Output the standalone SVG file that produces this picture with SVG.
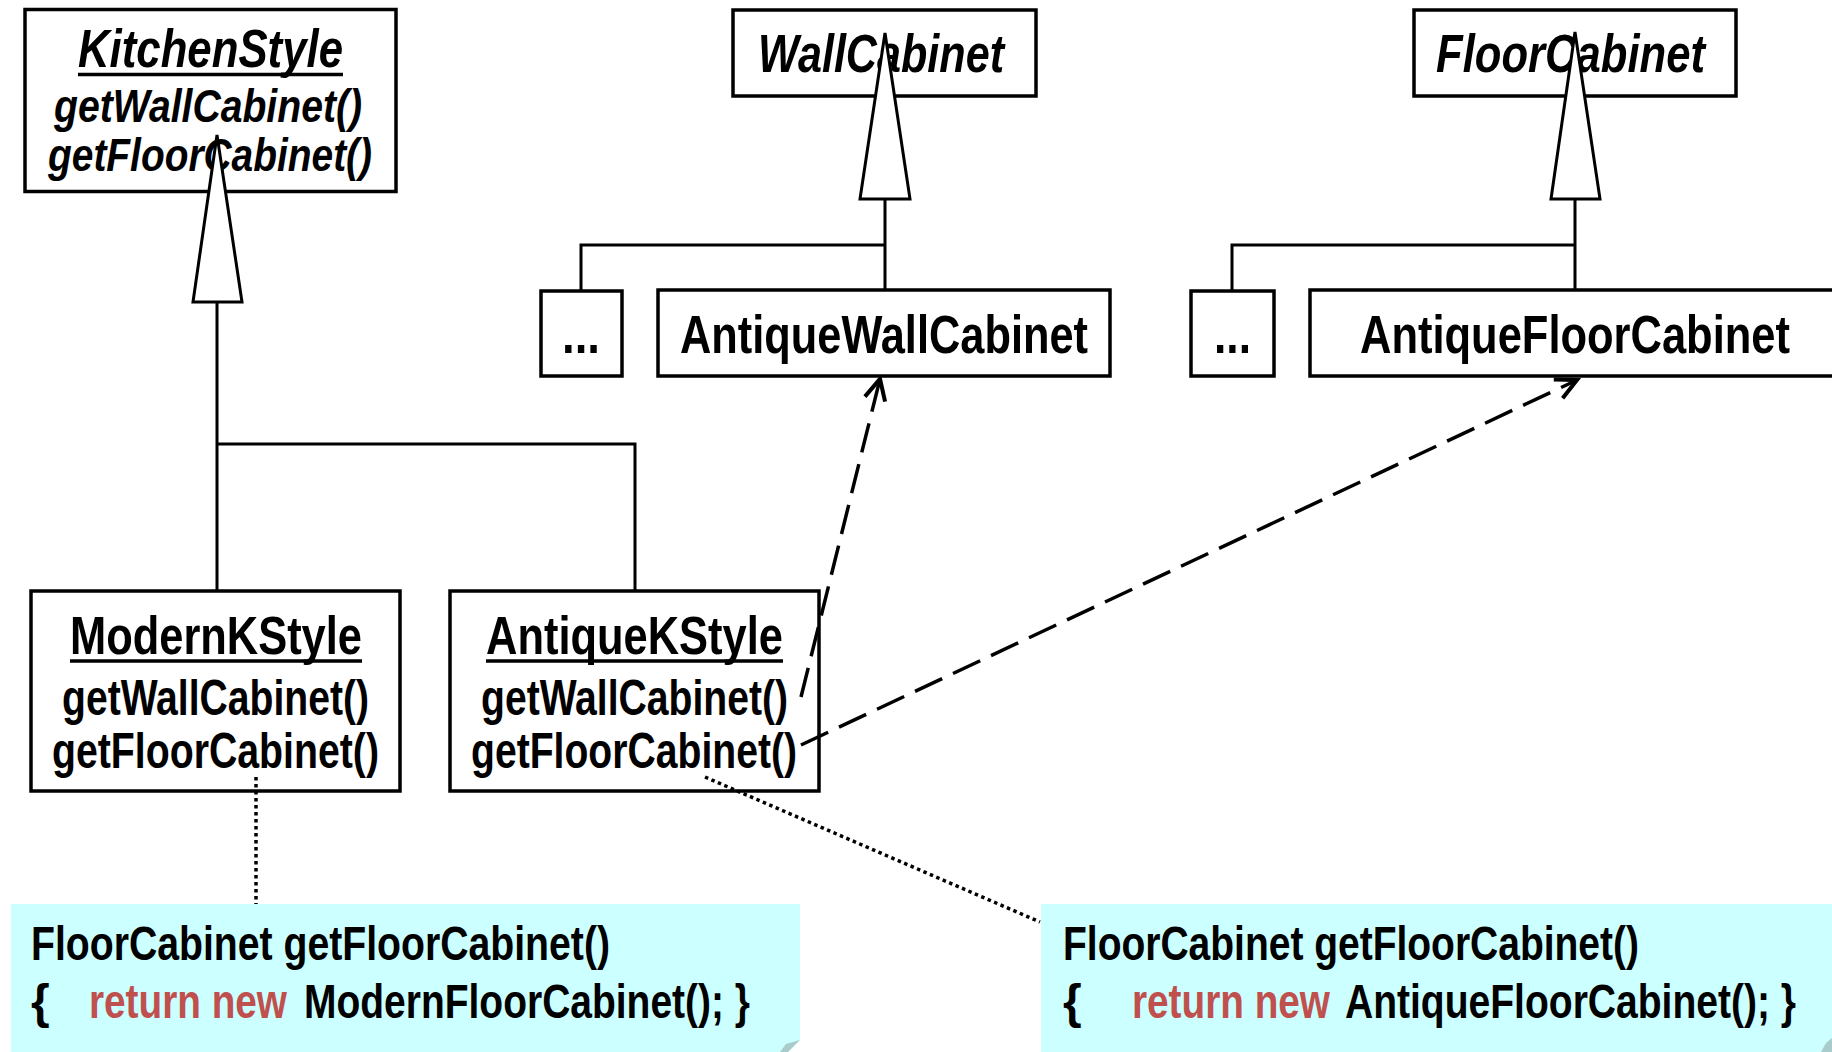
<svg xmlns="http://www.w3.org/2000/svg" width="1832" height="1052" viewBox="0 0 1832 1052">
  <style>
    .box { fill: #ffffff; stroke: #000000; stroke-width: 3.5; }
    .t { font-family: "Liberation Sans Narrow", "Liberation Sans", Arial, sans-serif; font-weight: bold; fill: #000000; }
    .cls { font-size: 54px; }
    .mth { font-size: 50px; }
    .amth { font-size: 47px; }
    .it { font-style: italic; }
    .code { font-size: 48px; }
    .kw { fill: #C0504D; }
    .ul { stroke: #000000; stroke-width: 3.5; }
    .gen { fill: none; stroke: #000000; stroke-width: 3; }
    .tri { fill: #ffffff; stroke: #000000; stroke-width: 3; stroke-linejoin: miter; }
    .dep { fill: none; stroke: #000000; stroke-width: 3.5; stroke-dasharray: 30 12; }
    .dot { fill: none; stroke: #000000; stroke-width: 3.5; stroke-dasharray: 3.5 3.5; }
    .note { fill: #CCFFFF; }
    .fold { fill: #A8CCCC; }
  </style>
  <defs>
    <marker id="open" markerUnits="userSpaceOnUse" markerWidth="30" markerHeight="30" refX="0" refY="0" viewBox="-22 -12 26 24" orient="auto" overflow="visible">
      <path d="M-18,-9 L0,0 L-18,9" fill="none" stroke="#000000" stroke-width="3.5"/>
    </marker>
  </defs>

  <!-- code notes -->
  <g id="note-modern">
    <polygon class="note" points="11,904 800,904 800,1040 788,1052 11,1052"/>
    <polygon class="fold" points="800,1040 786,1044 780,1052 788,1052"/>
    <text class="t code" x="31" y="960" textLength="579" lengthAdjust="spacingAndGlyphs">FloorCabinet getFloorCabinet()</text>
    <text class="t code" y="1018"><tspan x="31">{</tspan><tspan class="kw" x="89" textLength="198" lengthAdjust="spacingAndGlyphs">return new</tspan><tspan x="304" textLength="446" lengthAdjust="spacingAndGlyphs">ModernFloorCabinet(); }</tspan></text>
  </g>
  <g id="note-antique">
    <polygon class="note" points="1041,904 1832,904 1832,1052 1041,1052"/>
    <polygon class="fold" points="1832,1038 1826,1043 1821,1052 1832,1052"/>
    <text class="t code" x="1063" y="960" textLength="576" lengthAdjust="spacingAndGlyphs">FloorCabinet getFloorCabinet()</text>
    <text class="t code" y="1018"><tspan x="1063">{</tspan><tspan class="kw" x="1132" textLength="198" lengthAdjust="spacingAndGlyphs">return new</tspan><tspan x="1345" textLength="451" lengthAdjust="spacingAndGlyphs">AntiqueFloorCabinet(); }</tspan></text>
  </g>

  <!-- classes -->
  <g id="kitchen-style">
    <rect class="box" x="25" y="9.5" width="371" height="182"/>
    <text class="t cls it" x="78" y="67" textLength="265" lengthAdjust="spacingAndGlyphs">KitchenStyle</text>
    <line class="ul" x1="78" y1="74.5" x2="343" y2="74.5"/>
    <text class="t amth it" x="54" y="122" textLength="308" lengthAdjust="spacingAndGlyphs">getWallCabinet()</text>
    <text class="t amth it" x="48" y="171" textLength="324" lengthAdjust="spacingAndGlyphs">getFloorCabinet()</text>
  </g>

  <g id="wall-cabinet">
    <rect class="box" x="733" y="10" width="303" height="86"/>
    <text class="t cls it" x="758" y="72" textLength="246" lengthAdjust="spacingAndGlyphs">WallCabinet</text>
  </g>

  <g id="floor-cabinet">
    <rect class="box" x="1414" y="10" width="322" height="86"/>
    <text class="t cls it" x="1436" y="72" textLength="269" lengthAdjust="spacingAndGlyphs">FloorCabinet</text>
  </g>

  <g id="other-wall-cabinet">
    <rect class="box" x="541" y="291" width="81" height="85"/>
    <text class="t cls" x="562" y="353" textLength="38" lengthAdjust="spacingAndGlyphs">...</text>
  </g>

  <g id="antique-wall-cabinet">
    <rect class="box" x="658" y="290" width="452" height="86"/>
    <text class="t cls" x="680" y="353" textLength="408" lengthAdjust="spacingAndGlyphs">AntiqueWallCabinet</text>
  </g>

  <g id="other-floor-cabinet">
    <rect class="box" x="1191" y="291" width="83" height="85"/>
    <text class="t cls" x="1214" y="353" textLength="37" lengthAdjust="spacingAndGlyphs">...</text>
  </g>

  <g id="antique-floor-cabinet">
    <rect class="box" x="1310" y="290" width="540" height="86"/>
    <text class="t cls" x="1360" y="353" textLength="430" lengthAdjust="spacingAndGlyphs">AntiqueFloorCabinet</text>
  </g>

  <g id="modern-kstyle">
    <rect class="box" x="31" y="591" width="369" height="200"/>
    <text class="t cls" x="70" y="654" textLength="292" lengthAdjust="spacingAndGlyphs">ModernKStyle</text>
    <line class="ul" x1="70" y1="661" x2="362" y2="661"/>
    <text class="t mth" x="62" y="715" textLength="307" lengthAdjust="spacingAndGlyphs">getWallCabinet()</text>
    <text class="t mth" x="52" y="768" textLength="327" lengthAdjust="spacingAndGlyphs">getFloorCabinet()</text>
  </g>

  <g id="antique-kstyle">
    <rect class="box" x="450" y="591" width="369" height="200"/>
    <text class="t cls" x="486" y="654" textLength="297" lengthAdjust="spacingAndGlyphs">AntiqueKStyle</text>
    <line class="ul" x1="486" y1="661" x2="783" y2="661"/>
    <text class="t mth" x="481" y="715" textLength="307" lengthAdjust="spacingAndGlyphs">getWallCabinet()</text>
    <text class="t mth" x="471" y="768" textLength="326" lengthAdjust="spacingAndGlyphs">getFloorCabinet()</text>
  </g>

  <!-- connectors -->
  <g id="connectors">
    <!-- inheritance: KitchenStyle -->
    <path class="gen" d="M217,302 V591 M217,444 H635 V591"/>
    <polygon class="tri" points="217,135 193,302 242,302"/>
    <!-- inheritance: WallCabinet -->
    <path class="gen" d="M885,199 V290 M885,245 H581 V291"/>
    <polygon class="tri" points="885,33 860,199 910,199"/>
    <!-- inheritance: FloorCabinet -->
    <path class="gen" d="M1575,199 V290 M1575,245 H1232 V291"/>
    <polygon class="tri" points="1575,32 1551,199 1600,199"/>
    <!-- creates -->
    <line class="dep" x1="801" y1="697" x2="880" y2="379" marker-end="url(#open)"/>
    <line class="dep" x1="801" y1="745" x2="1577" y2="380" marker-end="url(#open)"/>
    <!-- note anchors -->
    <line class="dot" x1="256" y1="777" x2="256" y2="904"/>
    <line class="dot" x1="705" y1="777" x2="1040" y2="922"/>
  </g>
</svg>
